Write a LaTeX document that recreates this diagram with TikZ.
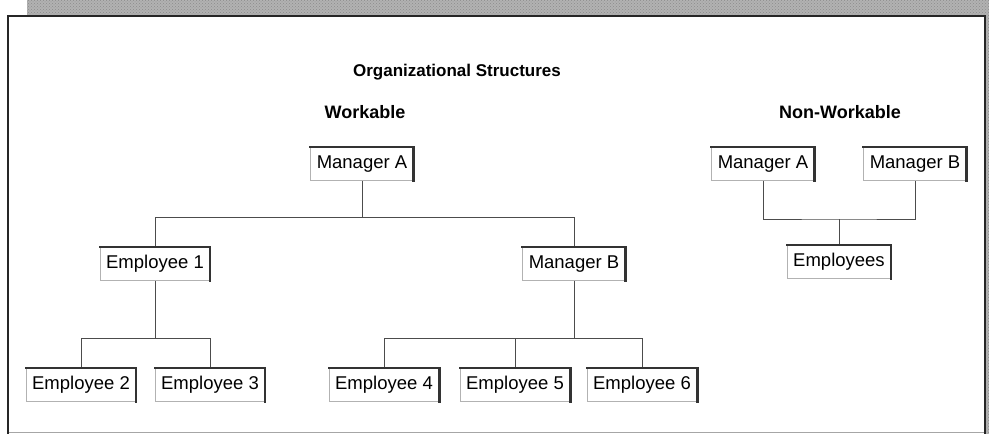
\documentclass[tikz,border=0pt]{standalone}
\usepackage{fontspec}
\setmainfont{Liberation Sans}
\usetikzlibrary{positioning,patterns}

\begin{document}
\begin{tikzpicture} [x=1pt, y=-1pt,
          orgbox/.style = {draw=gray!60, line width=0.7pt, fill=white, font=\fontsize{18.5}{20}\selectfont,
                           minimum height=33pt, inner xsep=6pt, text height=13pt, text depth=3.5pt},
          box edge/.style = {line width=2.6pt, draw=black!80, line cap=rect},
          heading/.style = {font=\fontsize{18}{20}\selectfont\bfseries},
          link/.style = {draw=black!70, line width=0.7pt},
          shade band/.style = {fill=gray!60, postaction={pattern=crosshatch dots, pattern color=gray!90}}
          ]
          \useasboundingbox (0,0) rectangle (989,434);
          \path[shade band] (27,0) rectangle (989,16);
          \path[shade band] (985,16) rectangle (989,434);
          \draw[black!35, line width=0.6pt] (8,432) -- (985,432);
          \draw[black!85, line width=1.6pt] (8,434) -- (8,16) -- (985,16) -- (985,434);

          \node[heading, font=\fontsize{17}{19}\selectfont\bfseries] (title) at (457,72) {Organizational Structures};
          \node[heading] (work) at (365,112) {Workable};
          \node[heading] (nowork) at (840,112) {Non-Workable};

          \node[orgbox] (wma) at (362,164) {Manager A};
          \node[orgbox] (we1) at (155,264) {Employee 1};
          \node[orgbox] (wmb) at (574,264) {Manager B};
          \node[orgbox] (we2) at (81,385) {Employee 2};
          \node[orgbox] (we3) at (210,385) {Employee 3};
          \node[orgbox] (we4) at (384,385) {Employee 4};
          \node[orgbox] (we5) at (515,385) {Employee 5};
          \node[orgbox] (we6) at (642,385) {Employee 6};

          \node[orgbox] (nma) at (763,164) {Manager A};
          \node[orgbox] (nmb) at (915,164) {Manager B};
          \node[orgbox] (nemp) at (839,262) {Employees};

          \coordinate (wbar) at (0,217);
          \coordinate (ebar) at (0,338);
          \coordinate (nbar) at (0,219);

          \draw[link] (wma.south) -- (wma.south |- wbar) -| (we1.north);
          \draw[link] (wma.south |- wbar) -| (wmb.north);
          \draw[link] (we1.south) -- (we1.south |- ebar) -| (we2.north);
          \draw[link] (we1.south |- ebar) -| (we3.north);
          \draw[link] (wmb.south) -- (wmb.south |- ebar) -| (we4.north);
          \draw[link] (wmb.south |- ebar) -| (we6.north);
          \draw[link] (we5.north) -- (we5.north |- ebar);
          \draw[link] (nma.south) |- (nemp.north |- nbar) -| (nmb.south);
          \draw[link] (nemp.north |- nbar) -- (nemp.north);

          \foreach \n in {wma, we1, wmb, we2, we3, we4, we5, we6, nma, nmb, nemp}
            \draw[box edge] (\n.north west) -- (\n.north east) -- (\n.south east);
        \end{tikzpicture}
\end{document}
